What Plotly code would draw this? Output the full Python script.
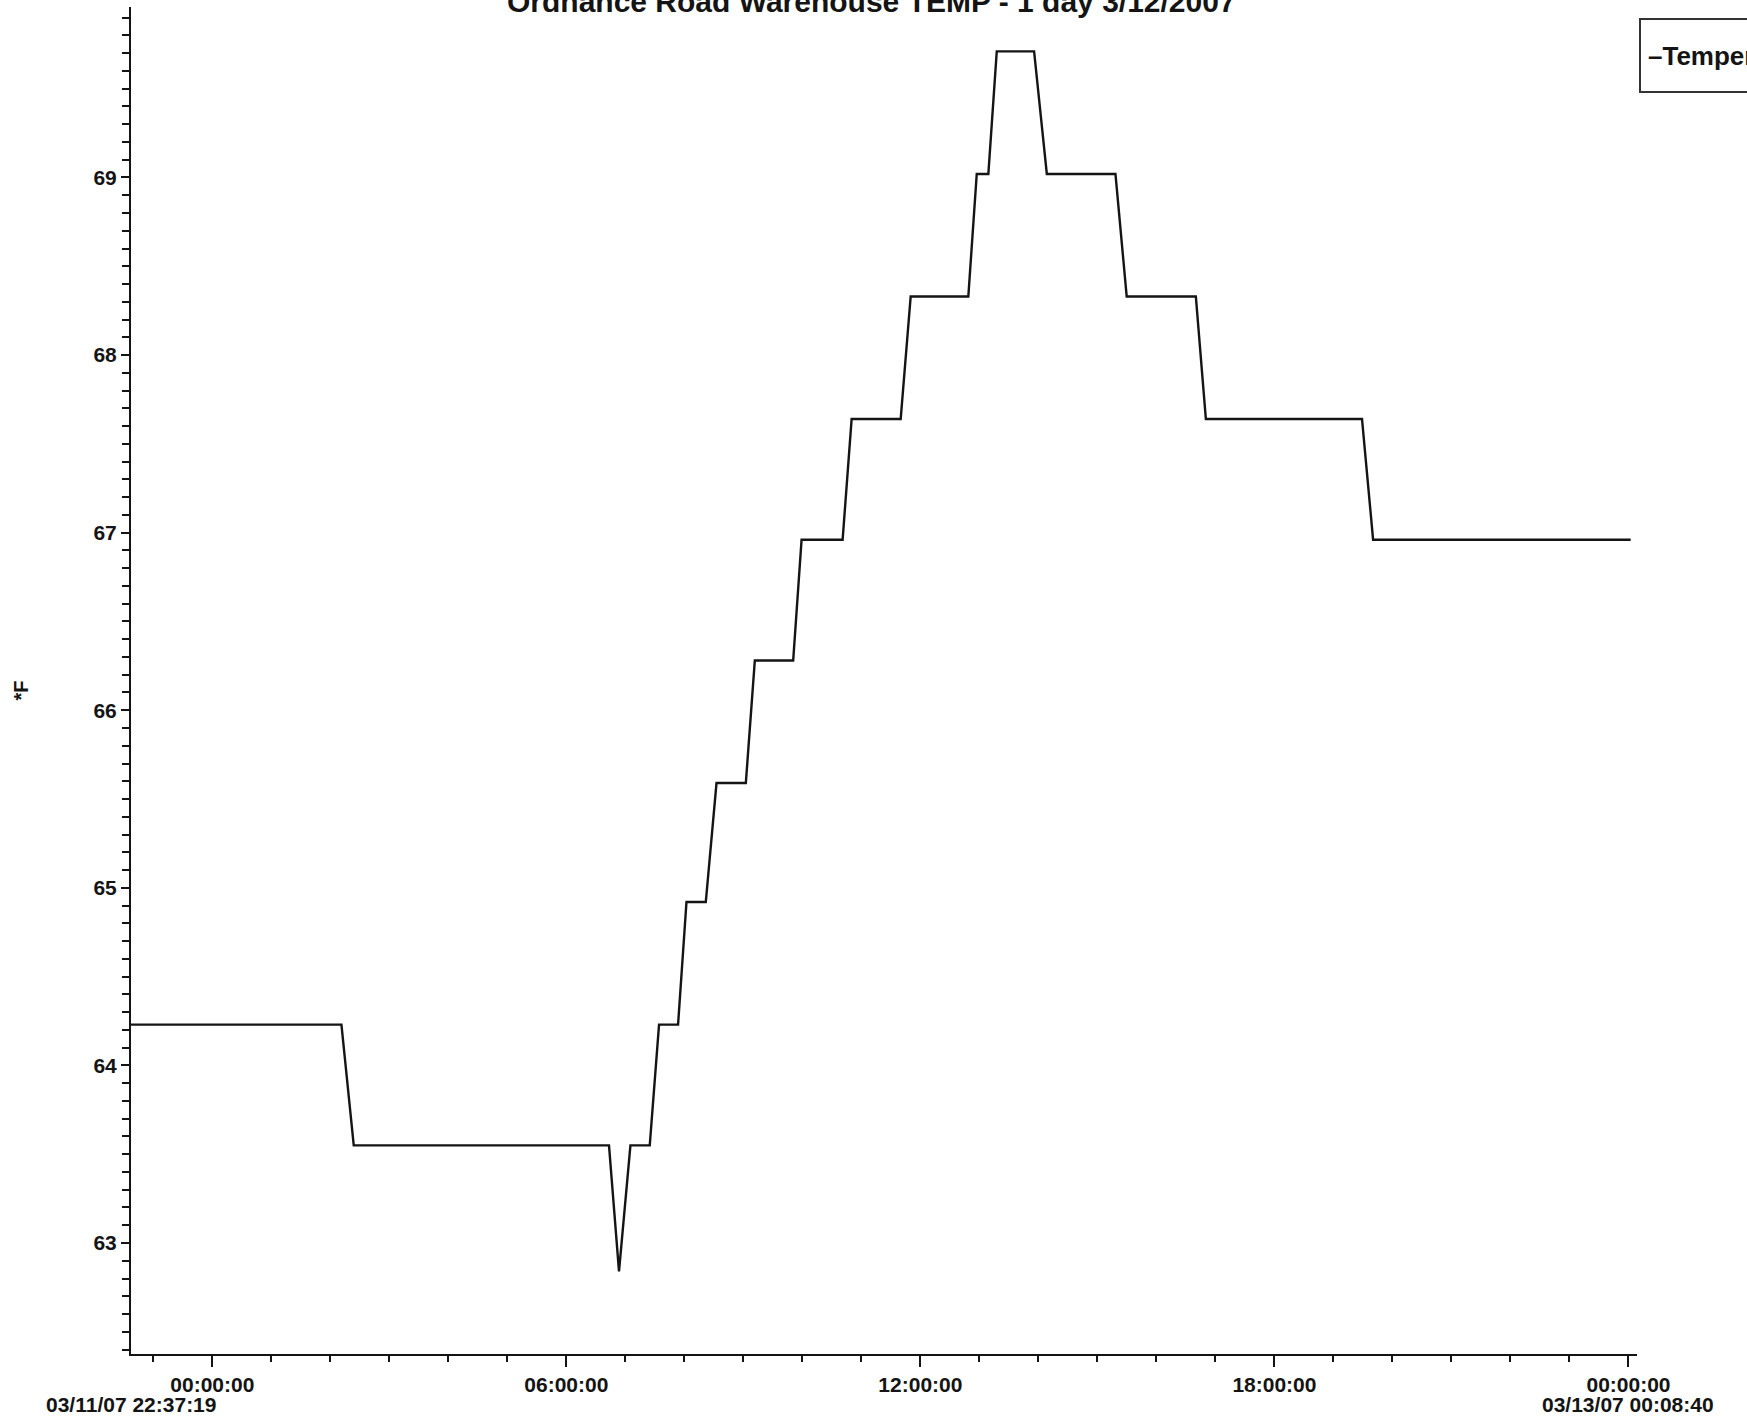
import plotly.graph_objects as go

# ---- data ----
TIMES = [
    "2007-03-11 22:37:19", "2007-03-12 02:11:18", "2007-03-12 02:23:49",
    "2007-03-12 06:43:22", "2007-03-12 06:53:32", "2007-03-12 07:05:09",
    "2007-03-12 07:24:48", "2007-03-12 07:34:15", "2007-03-12 07:53:36",
    "2007-03-12 08:02:09", "2007-03-12 08:21:47", "2007-03-12 08:32:41",
    "2007-03-12 09:02:30", "2007-03-12 09:11:39", "2007-03-12 09:50:38",
    "2007-03-12 09:59:11", "2007-03-12 10:40:55", "2007-03-12 10:50:05",
    "2007-03-12 11:39:57", "2007-03-12 11:50:07", "2007-03-12 12:48:44",
    "2007-03-12 12:57:18", "2007-03-12 13:09:06", "2007-03-12 13:17:39",
    "2007-03-12 13:55:37", "2007-03-12 14:08:33", "2007-03-12 15:18:21",
    "2007-03-12 15:29:46", "2007-03-12 16:40:05", "2007-03-12 16:50:16",
    "2007-03-12 19:29:03", "2007-03-12 19:40:20", "2007-03-13 00:02:13",
]
TEMPS_F = [
    64.23, 64.23, 63.55, 63.55, 62.84, 63.55, 63.55, 64.23, 64.23,
    64.92, 64.92, 65.59, 65.59, 66.28, 66.28, 66.96, 66.96, 67.64,
    67.64, 68.33, 68.33, 69.02, 69.02, 69.71, 69.71, 69.02, 69.02,
    68.33, 68.33, 67.64, 67.64, 66.96, 66.96,
]
SERIES_NAME = "Temperature"
TITLE = "Ordnance Road Warehouse TEMP - 1 day 3/12/2007"
Y_TITLE = "*F"
X_START = "2007-03-11 22:37:19"
X_END = "2007-03-13 00:08:40"
X_TICK_VALS = ["2007-03-12 00:00:00", "2007-03-12 06:00:00", "2007-03-12 12:00:00",
               "2007-03-12 18:00:00", "2007-03-13 00:00:00"]
X_TICK_TEXT = ["00:00:00", "06:00:00", "12:00:00", "18:00:00", "00:00:00"]
START_LABEL = "03/11/07 22:37:19"
END_LABEL = "03/13/07 00:08:40"
Y_TICK_VALS = [63, 64, 65, 66, 67, 68, 69]
Y_RANGE = [62.375, 69.96]

FONT = "Liberation Sans, Arial, sans-serif"
INK = "#141414"

fig = go.Figure()
fig.add_trace(go.Scatter(
    x=TIMES, y=TEMPS_F, mode="lines", name=SERIES_NAME,
    line=dict(color=INK, width=2.4), showlegend=False,
))

axis_common = dict(
    showline=True, linecolor=INK, linewidth=2, mirror=False,
    showgrid=False, zeroline=False, ticks="outside", tickcolor=INK,
    tickwidth=2, tickfont=dict(family=FONT, size=21, color=INK, weight="bold"),
)

fig.update_layout(
    width=1747, height=1425,
    margin=dict(l=131, r=110, t=7, b=71, autoexpand=False),
    paper_bgcolor="white", plot_bgcolor="white",
    font=dict(family=FONT, color=INK),
    xaxis=dict(
        type="date", range=[X_START, X_END],
        tickmode="array", tickvals=X_TICK_VALS, ticktext=X_TICK_TEXT,
        ticklen=11,
        minor=dict(tickmode="linear", tick0="2007-03-12 00:00:00", dtick=3600000,
                   ticks="outside", ticklen=6, tickwidth=2, tickcolor=INK),
        **axis_common,
    ),
    yaxis=dict(
        range=Y_RANGE, tickmode="array", tickvals=Y_TICK_VALS,
        ticklen=8,
        minor=dict(tickmode="linear", tick0=63, dtick=0.1,
                   ticks="outside", ticklen=7, tickwidth=2, tickcolor=INK),
        **axis_common,
    ),
    annotations=[
        dict(text=TITLE, xref="paper", yref="paper", x=0.492, y=1,
             xanchor="center", yanchor="bottom", yshift=-13, showarrow=False,
             font=dict(family=FONT, size=30, color=INK, weight="bold")),
        dict(text=Y_TITLE, xref="paper", yref="paper", x=0, y=0.5,
             xanchor="center", yanchor="middle", xshift=-111, yshift=-10,
             textangle=-90, showarrow=False,
             font=dict(family=FONT, size=20, color=INK, weight="bold")),
        dict(text=START_LABEL, xref="x", yref="paper", x=X_START, y=0,
             xanchor="center", yanchor="middle", yshift=-50, showarrow=False,
             font=dict(family=FONT, size=21, color=INK, weight="bold")),
        dict(text=END_LABEL, xref="x", yref="paper", x=X_TICK_VALS[-1], y=0,
             xanchor="center", yanchor="middle", yshift=-50, showarrow=False,
             font=dict(family=FONT, size=21, color=INK, weight="bold")),
        dict(text="\u2013" + SERIES_NAME, xref="paper", yref="paper",
             x=1.0013, y=0.9918, xanchor="left", yanchor="top",
             width=200, height=57, align="left", valign="middle",
             bordercolor="#333333", borderwidth=2, borderpad=7, bgcolor="white",
             showarrow=False,
             font=dict(family=FONT, size=26, color=INK, weight="bold")),
    ],
)

fig.write_html("out.html", config={"displayModeBar": False},
               post_script="document.body.style.margin='0';")
